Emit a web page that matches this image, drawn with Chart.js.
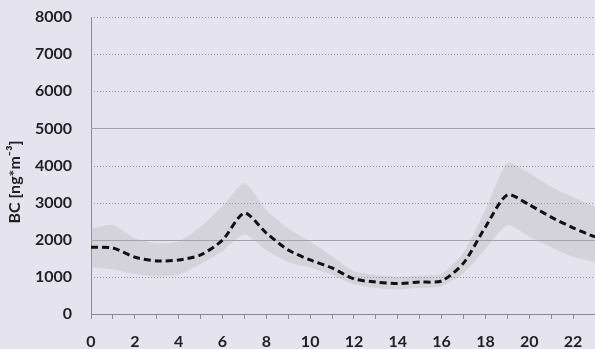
<!DOCTYPE html>
<html>
<head>
<meta charset="utf-8">
<script src="https://cdn.jsdelivr.net/npm/chart.js@4/dist/chart.umd.min.js"></script>
<style>
  html, body { margin: 0; padding: 0; background: #e5e4ee; }
  #wrap { width: 595px; height: 349px; position: relative; }
</style>
</head>
<body>
<div id="wrap"><canvas id="c"></canvas></div>
<script>
// Hour of day
const hours = [0,1,2,3,4,5,6,7,8,9,10,11,12,13,14,15,16,17,18,19,20,21,22,23];
// Mean black carbon concentration, ng/m3
const bcMean = [1800,1780,1530,1430,1455,1590,1990,2720,2180,1725,1455,1240,945,860,820,860,890,1370,2345,3210,2940,2610,2320,2075];
// Upper and lower edge of the spread band
const bcUpper = [2300,2400,2050,1900,1950,2350,2900,3530,2800,2300,1950,1550,1150,1050,1000,1030,1080,1650,2800,4070,3800,3420,3150,2880];
const bcLower = [1250,1200,1080,1020,1060,1350,1700,2150,1720,1400,1250,1050,800,700,660,700,750,1100,1750,2400,2080,1800,1540,1400];
// Value axis ticks; solid gridlines at some levels, dotted at the rest
const yTicks = [0,1000,2000,3000,4000,5000,6000,7000,8000];
const solidLevels = [2000,5000];
const yTitle = 'BC [ng*m⁻³]';

const pts = arr => hours.map((h, i) => ({ x: h, y: arr[i] }));

const gridPlugin = {
  id: 'levelGrid',
  beforeDatasetsDraw(chart) {
    const { ctx, chartArea: a, scales: { y } } = chart;
    ctx.save();
    yTicks.forEach(v => {
      if (v === 0) return;
      const py = Math.round(y.getPixelForValue(v)) + 0.5;
      const solid = solidLevels.includes(v);
      ctx.strokeStyle = solid ? '#a2a2ac' : '#8e8e98';
      ctx.lineWidth = 1;
      ctx.setLineDash(solid ? [] : [1, 2]);
      ctx.beginPath();
      ctx.moveTo(a.left, py);
      ctx.lineTo(a.right, py);
      ctx.stroke();
    });
    ctx.restore();
  },
  // rotated value-axis title
  afterDraw(chart) {
    const { ctx } = chart;
    ctx.save();
    ctx.translate(15, 182);
    ctx.rotate(-Math.PI / 2);
    ctx.fillStyle = '#1e1e24';
    ctx.font = 'bold 16px Lato';
    ctx.textAlign = 'center';
    ctx.textBaseline = 'middle';
    ctx.fillText(yTitle, 0, 0);
    ctx.restore();
  }
};

new Chart(document.getElementById('c'), {
  type: 'line',
  data: {
    datasets: [
      {
        label: 'BC',
        data: pts(bcMean),
        borderColor: '#111111',
        borderWidth: 3,
        borderDash: [7, 4],
        pointRadius: 0,
        tension: 0.25,
        fill: false,
        order: 0
      },
      {
        label: 'upper',
        data: pts(bcUpper),
        borderColor: 'rgba(0,0,0,0)',
        borderWidth: 0,
        backgroundColor: 'rgba(165,165,175,0.27)',
        pointRadius: 0,
        tension: 0.2,
        fill: 2,
        order: 1
      },
      {
        label: 'lower',
        data: pts(bcLower),
        borderColor: 'rgba(0,0,0,0)',
        borderWidth: 0,
        pointRadius: 0,
        tension: 0.2,
        fill: false,
        order: 2
      }
    ]
  },
  options: {
    responsive: true,
    maintainAspectRatio: false,
    animation: false,
    layout: { padding: { top: 17, right: 0, left: 0, bottom: 0 } },
    plugins: { legend: { display: false }, tooltip: { enabled: false } },
    scales: {
      x: {
        type: 'linear',
        min: 0,
        max: 23,
        ticks: {
          stepSize: 1,
          autoSkip: false,
          maxRotation: 0,
          padding: 13,
          color: '#1e1e24',
          font: { family: 'Lato', weight: 'bold', size: 16 },
          callback: v => (v % 2 === 0 && v <= 22) ? String(v) : ''
        },
        grid: { drawOnChartArea: false, drawTicks: true, tickLength: 5, color: '#8e8e98' },
        border: { display: true, color: '#8a8a94', width: 1 },
        afterFit: s => { s.height = 35; s.paddingRight = 0; s.paddingLeft = 0; }
      },
      y: {
        min: 0,
        max: 8000,
        afterBuildTicks: s => { s.ticks = yTicks.map(v => ({ value: v })); },
        ticks: {
          padding: 19,
          color: '#1e1e24',
          font: { family: 'Lato', weight: 'bold', size: 16 },
          callback: v => String(v)
        },
        grid: { display: false, drawTicks: false },
        border: { display: true, color: '#8a8a94', width: 1 },
        afterFit: s => { s.width = 91; s.paddingTop = 0; s.paddingBottom = 0; }
      }
    }
  },
  plugins: [gridPlugin]
});
</script>
</body>
</html>
